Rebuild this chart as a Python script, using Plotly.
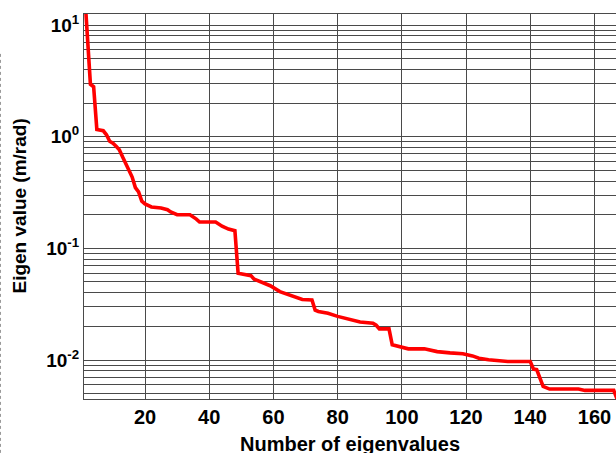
import numpy as np
import plotly.graph_objects as go

# Eigenvalue spectrum (index, eigenvalue in m/rad)
eig_index = [1, 2, 3, 4, 5, 7, 8, 9, 10, 11, 12, 13, 14, 15, 16, 17, 18, 19, 20,
             22, 25, 27, 28, 30, 34, 36, 37, 42, 44, 46, 48, 49, 50, 53, 54, 56,
             59, 62, 65, 67, 69, 72, 73, 74, 77, 80, 84, 87, 91, 92, 93, 96, 97,
             99, 102, 107, 111, 115, 119, 122, 124, 127, 133, 140, 141, 142, 144,
             146, 155, 157, 166, 167]
eig_value = [24, 9.5, 2.95, 2.8, 1.16, 1.13, 1.04, 0.91, 0.875, 0.82, 0.765,
             0.66, 0.58, 0.5, 0.435, 0.35, 0.32, 0.265, 0.25, 0.235, 0.23,
             0.222, 0.212, 0.2, 0.2, 0.183, 0.172, 0.172, 0.158, 0.149, 0.144,
             0.0598, 0.0589, 0.057, 0.053, 0.05, 0.0463, 0.041, 0.0383, 0.037,
             0.0349, 0.0345, 0.028, 0.0272, 0.0262, 0.0246, 0.0229, 0.0219,
             0.0214, 0.0205, 0.019, 0.019, 0.0137, 0.0132, 0.0126, 0.0126,
             0.0119, 0.0116, 0.0114, 0.0109, 0.0104, 0.01005, 0.0097, 0.0097,
             0.0083, 0.0082, 0.0058, 0.0055, 0.0055, 0.00535, 0.00535, 0.0045]

x_ticks = [20, 40, 60, 80, 100, 120, 140, 160]
y_ticks = [0.01, 0.1, 1, 10]
y_tick_text = ["10<sup>-2</sup>", "10<sup>-1</sup>", "10<sup>0</sup>", "10<sup>1</sup>"]

GRID = "#4a4a4a"
FONT = "Liberation Sans, Arial, sans-serif"

# minor gridlines at 2..9 times each decade
minor_vals = [m * 10.0 ** e for e in range(-3, 2) for m in range(2, 10)]

fig = go.Figure()
fig.add_trace(go.Scatter(
    x=eig_index, y=eig_value, mode="lines",
    line=dict(color="#ff0000", width=3.6),
    showlegend=False, cliponaxis=True,
))

fig.update_layout(
    width=616, height=453,
    margin=dict(l=84, r=0, t=14, b=54),
    paper_bgcolor="white", plot_bgcolor="white",
    font=dict(family=FONT, color="black"),
    xaxis=dict(
        range=[1, 166.7], tickvals=x_ticks, ticks="",
        showgrid=True, gridcolor=GRID, gridwidth=1,
        showline=True, linecolor=GRID, linewidth=1, mirror=True,
        zeroline=False,
        tickfont=dict(family=FONT, size=20, weight="bold", color="black"),
    ),
    yaxis=dict(
        type="log", range=[np.log10(0.00448), 1.0985],
        tickvals=y_ticks, ticktext=y_tick_text, ticks="",
        showgrid=True, gridcolor=GRID, gridwidth=1,
        showline=True, linecolor=GRID, linewidth=1,
        zeroline=False,
        minor=dict(tickvals=minor_vals, showgrid=True, gridcolor=GRID,
                   gridwidth=1, ticks=""),
        tickfont=dict(family=FONT, size=19, weight="bold", color="black"),
    ),
    annotations=[
        dict(text="<b>Number of eigenvalues</b>", xref="paper", yref="paper",
             x=0.5, y=0, yanchor="top", yshift=-32, showarrow=False,
             font=dict(family=FONT, size=20, color="black")),
        dict(text="<b>Eigen value (m/rad)</b>", xref="paper", yref="paper",
             x=0, y=0.5, xanchor="center", xshift=-65, textangle=-90,
             showarrow=False,
             font=dict(family=FONT, size=19, color="black")),
    ],
    shapes=[
        dict(type="line", xref="paper", yref="paper",
             x0=-83.5 / 532, x1=-83.5 / 532, y0=-0.14, y1=0.9,
             line=dict(color="#9a9a9a", width=1, dash="dot")),
    ],
)

fig.write_html("out.html")
